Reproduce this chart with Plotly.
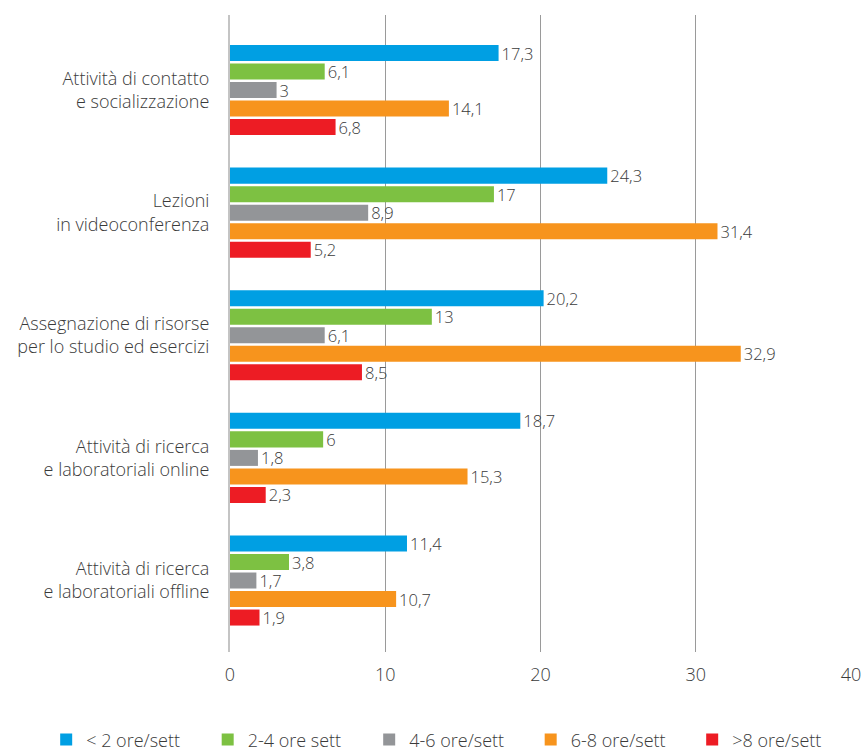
import plotly.graph_objects as go

# Activity categories (top to bottom)
categories = [
    "Attività di contatto<br>e socializzazione",
    "Lezioni<br>in videoconferenza",
    "Assegnazione di risorse<br>per lo studio ed esercizi",
    "Attività di ricerca<br>e laboratoriali online",
    "Attività di ricerca<br>e laboratoriali offline",
]

# Series names
series_names = ["< 2 ore/sett", "2-4 ore sett", "4-6 ore/sett", "6-8 ore/sett", ">8 ore/sett"]

# Values per series, one per category
lt2 = [17.3, 24.3, 20.2, 18.7, 11.4]
h2_4 = [6.1, 17, 13, 6, 3.8]
h4_6 = [3, 8.9, 6.1, 1.8, 1.7]
h6_8 = [14.1, 31.4, 32.9, 15.3, 10.7]
gt8 = [6.8, 5.2, 8.5, 2.3, 1.9]

x_ticks = [0, 10, 20, 30, 40]

colors = ["#009fe3", "#7dc142", "#939598", "#f7941d", "#ed1c24"]
series_values = [lt2, h2_4, h4_6, h6_8, gt8]

FONT = "Open Sans"
TEXT_COLOR = "#3a3a3a"


def fmt(v):
    return f"{v:g}".replace(".", ",")


fig = go.Figure()
for name, vals, col in zip(series_names, series_values, colors):
    fig.add_trace(go.Bar(
        y=categories,
        x=vals,
        name=name,
        orientation="h",
        marker=dict(color=col, line=dict(width=0)),
        text=[fmt(v) for v in vals],
        textposition="outside",
        constraintext="none",
        textfont=dict(family=FONT, size=16.5, color=TEXT_COLOR, weight=300),
        cliponaxis=False,
    ))

fig.update_layout(
    width=868,
    height=751,
    margin=dict(l=230, r=17, t=15, b=99, autoexpand=False),
    paper_bgcolor="white",
    plot_bgcolor="white",
    barmode="group",
    bargap=0.245,
    bargroupgap=0.135,
    font=dict(family=FONT, color=TEXT_COLOR, weight=300),
    showlegend=True,
    legend=dict(
        orientation="h",
        xref="paper",
        yref="paper",
        x=-0.296,
        xanchor="left",
        y=-0.138,
        yanchor="middle",
        font=dict(family=FONT, size=18, color=TEXT_COLOR, weight=300),
        entrywidth=116.5,
        itemwidth=30,
        traceorder="normal",
    ),
)

fig.update_xaxes(
    range=[0, 40],
    tickvals=x_ticks,
    ticktext=[str(t) for t in x_ticks],
    showgrid=True,
    gridcolor="#9a9a9a",
    gridwidth=1,
    zeroline=False,
    showline=False,
    ticks="",
    ticklabelstandoff=10,
    tickfont=dict(family=FONT, size=18, color=TEXT_COLOR, weight=300),
    fixedrange=True,
)

fig.update_yaxes(
    type="category",
    categoryorder="array",
    categoryarray=categories,
    range=[4.583, -0.612],
    showgrid=False,
    zeroline=False,
    showline=True,
    linecolor="#c4c4c4",
    linewidth=2,
    ticks="",
    ticklabelstandoff=15,
    tickfont=dict(family=FONT, size=18, color=TEXT_COLOR, weight=300),
    fixedrange=True,
)

fig.write_html("out.html")
